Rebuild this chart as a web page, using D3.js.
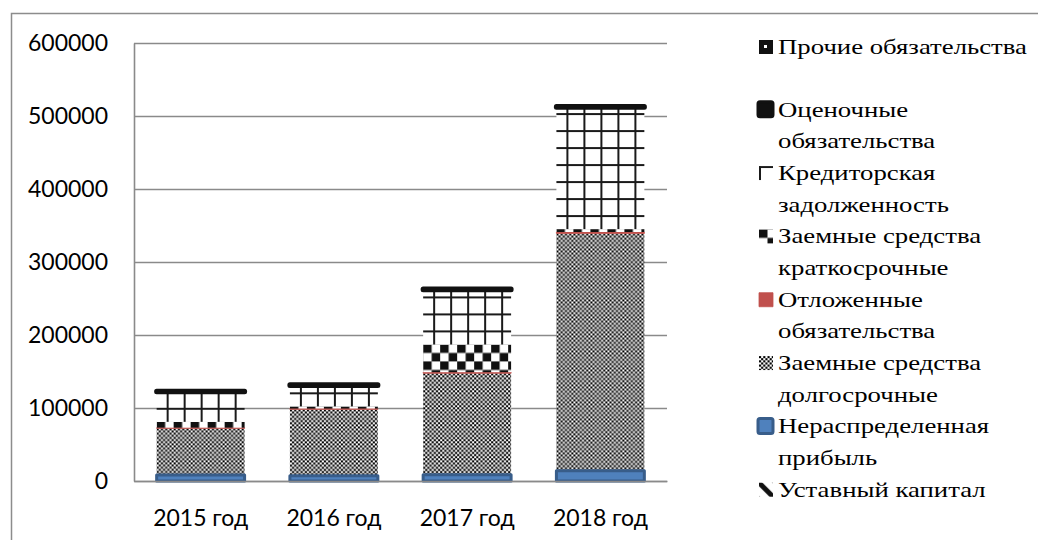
<!DOCTYPE html>
<html><head><meta charset="utf-8">
<script src="https://cdn.jsdelivr.net/npm/d3@7"></script>
<style>
html,body{margin:0;padding:0;background:#fff;} svg{display:block;}
.lg-text{font-family:"Liberation Serif","Times New Roman",Times,serif;}
</style>
</head><body>
<svg id="chart" width="1038" height="540"></svg>
<script>
// ---------- DATA ----------
const categories = ["2015 год", "2016 год", "2017 год", "2018 год"];
const seriesNames = [
  "Уставный капитал",
  "Нераспределенная прибыль",
  "Заемные средства долгосрочные",
  "Отложенные обязательства",
  "Заемные средства краткосрочные",
  "Кредиторская задолженность",
  "Оценочные обязательства",
  "Прочие обязательства"
];
const ustavnyKapital  = [100, 100, 100, 100];
const neraspredPribyl = [8000, 7000, 8500, 14000];
const zaemDolg        = [64000, 91000, 139000, 325000];
const otlozhObyaz     = [1000, 1200, 1500, 2000];
const zaemKratk       = [8000, 3000, 38000, 4000];
const kreditZadolzh   = [41000, 28500, 75000, 167000];
const ocenObyaz       = [1000, 1000, 1000, 1000];
const prochieObyaz    = [100, 100, 100, 100];
const yTicks = [0, 100000, 200000, 300000, 400000, 500000, 600000];

const seriesValues = [ustavnyKapital, neraspredPribyl, zaemDolg, otlozhObyaz,
                      zaemKratk, kreditZadolzh, ocenObyaz, prochieObyaz];

// ---------- STYLES ----------
const styles = [
  {pattern: "diag"},
  {fill: "#4f81bd", stroke: "#385d8a", sw: 3},
  {pattern: "fine"},
  {fill: "#c0504d", stroke: "#c0504d", sw: 0.8},
  {pattern: "checker"},
  {pattern: "grid"},
  {fill: "#111", stroke: "#111", sw: 5},
  {pattern: "dot"}
];

const svg = d3.select("#chart");
const defs = svg.append("defs");
const T = 17; // pattern tile

function makePattern(id, type, px, py) {
  const p = defs.append("pattern").attr("id", id)
    .attr("patternUnits", "userSpaceOnUse")
    .attr("x", px).attr("y", py).attr("width", T).attr("height", T);
  if (type === "grid") {
    p.append("rect").attr("width", T).attr("height", T).attr("fill", "#fff");
    p.append("rect").attr("x", 0).attr("y", 0).attr("width", T).attr("height", 2).attr("fill", "#1a1a1a");
    p.append("rect").attr("x", 0).attr("y", 0).attr("width", 2).attr("height", T).attr("fill", "#1a1a1a");
  } else if (type === "checker") {
    const s = T / 2;
    p.append("rect").attr("width", T).attr("height", T).attr("fill", "#fff");
    p.append("rect").attr("x", 0).attr("y", 0).attr("width", s).attr("height", s).attr("fill", "#111");
    p.append("rect").attr("x", s).attr("y", s).attr("width", s).attr("height", s).attr("fill", "#111");
  } else if (type === "fine") {
    const c = T / 8;
    p.append("rect").attr("width", T).attr("height", T).attr("fill", "#fff");
    for (let i = 0; i < 8; i++) for (let j = 0; j < 8; j++) {
      if ((i + j) % 2 === 0)
        p.append("rect").attr("x", i * c).attr("y", j * c).attr("width", c).attr("height", c).attr("fill", "#000");
    }
  } else if (type === "dot") {
    p.append("rect").attr("width", T).attr("height", T).attr("fill", "#111");
    p.append("rect").attr("x", 5).attr("y", 5).attr("width", 3).attr("height", 3).attr("fill", "#fff");
  } else if (type === "diag") {
    p.append("rect").attr("width", T).attr("height", T).attr("fill", "#fff");
    p.append("path").attr("d", `M-3,-3L${T+3},${T+3}M-3,${T-3}L3,${T+3}M${T-3},-3L${T+3},3`)
      .attr("stroke", "#111").attr("stroke-width", 5);
  }
  return `url(#${id})`;
}

// ---------- LAYOUT ----------
const plot = {left: 134, right: 667, top: 43, bottom: 481};
const x = d3.scaleBand().domain(categories).range([plot.left, plot.right])
  .paddingInner(0.34).paddingOuter(0.17);
const y = d3.scaleLinear().domain([0, 600000]).range([plot.bottom, plot.top]);

// outer frame
svg.append("path").attr("d", "M11.5,540V13.5H1038")
  .attr("fill", "none").attr("stroke", "#8c8c8c").attr("stroke-width", 1.5);

// y axis + gridlines
const yAxis = svg.append("g").attr("transform", `translate(${plot.left},0)`)
  .call(d3.axisLeft(y).tickValues(yTicks).tickSizeInner(-(plot.right - plot.left))
    .tickSizeOuter(0).tickPadding(26).tickFormat(d3.format("d")));
yAxis.selectAll("line").attr("stroke", "#8a8a8a").attr("stroke-width", 1.6);
yAxis.select(".domain").attr("stroke", "#8a8a8a").attr("stroke-width", 1.6);
yAxis.selectAll("text").attr("font-family", "Lato, 'Open Sans', sans-serif")
  .attr("font-size", 23).attr("fill", "#000");

// data table + stack
const table = categories.map((c, j) => {
  const row = {cat: c};
  seriesNames.forEach((n, i) => row[n] = seriesValues[i][j]);
  return row;
});
const stack = d3.stack().keys(seriesNames)(table);

const bars = svg.append("g");
const order = [0, 2, 3, 4, 5, 7, 1, 6];
order.forEach(i => {
  const st = styles[i];
  stack[i].forEach((d, j) => {
    const bx = x(categories[j]);
    const yTop = y(d[1]), yBot = y(d[0]);
    let fill = st.fill;
    if (st.pattern) {
      let py = yTop;
      if (st.pattern === "grid") py = yBot - 14;
      fill = makePattern(`p${i}_${j}`, st.pattern, st.pattern === "grid" ? bx + 10 : bx, py);
    }
    bars.append("rect")
      .attr("x", bx).attr("y", yTop)
      .attr("width", x.bandwidth()).attr("height", Math.max(0, yBot - yTop))
      .attr("fill", fill)
      .attr("stroke", st.stroke || "none")
      .attr("stroke-width", st.sw || 0)
      .attr("stroke-linejoin", "round");
  });
});

// x axis
const xAxis = svg.append("g").attr("transform", `translate(0,${plot.bottom})`)
  .call(d3.axisBottom(x).tickSize(0).tickPadding(29));
xAxis.select(".domain").attr("stroke", "#8a8a8a").attr("stroke-width", 1.6);
xAxis.selectAll("text").attr("font-family", "Lato, 'Open Sans', sans-serif")
  .attr("font-size", 23).attr("fill", "#000");

// ---------- LEGEND ----------
const lineH = 31.67;
const textScaleX = 1.245;
const legend = svg.append("g");
function wrap(name) {
  if (name.length <= 20) return [name];
  const words = name.split(" ");
  const lines = [];
  let cur = "";
  words.forEach(w => {
    const t = cur ? cur + " " + w : w;
    if (t.length > 20 && cur) { lines.push(cur); cur = w; } else cur = t;
  });
  lines.push(cur);
  return lines;
}
let lineIdx = 0;
const legendOrder = d3.range(seriesNames.length).reverse();
legendOrder.forEach((i, k) => {
  const lines = wrap(seriesNames[i]);
  const base = k === 0 ? 54 : 116.7 + lineIdx * lineH;
  if (k > 0) lineIdx += lines.length;
  const st = styles[i];
  const sx = 759, sy = base - 14, ss = 14;
  let fill = st.fill;
  let sxx = sx, syy = sy, sww = ss;
  if (st.sw && st.sw >= 3) { sxx = sx - 1; syy = sy - 1; sww = ss + 1; }
  if (st.pattern) fill = makePattern(`lg${i}`, st.pattern, sx, sy);
  legend.append("rect").attr("x", sxx).attr("y", syy).attr("width", sww).attr("height", sww)
    .attr("fill", fill).attr("stroke", st.stroke || "none").attr("stroke-width", st.sw ? Math.min(st.sw, 3) : 0)
    .attr("stroke-linejoin", "round").attr("rx", st.sw >= 3 ? 2 : 0);
  const t = legend.append("text").attr("class", "lg-text")
    .attr("transform", `translate(778,${base}) scale(${textScaleX},1)`)
    .style("font-size", "21.5px").attr("fill", "#000");
  lines.forEach((ln, li) => {
    t.append("tspan").attr("x", 0).attr("y", li * lineH).text(ln);
  });
});
</script>
</body></html>
